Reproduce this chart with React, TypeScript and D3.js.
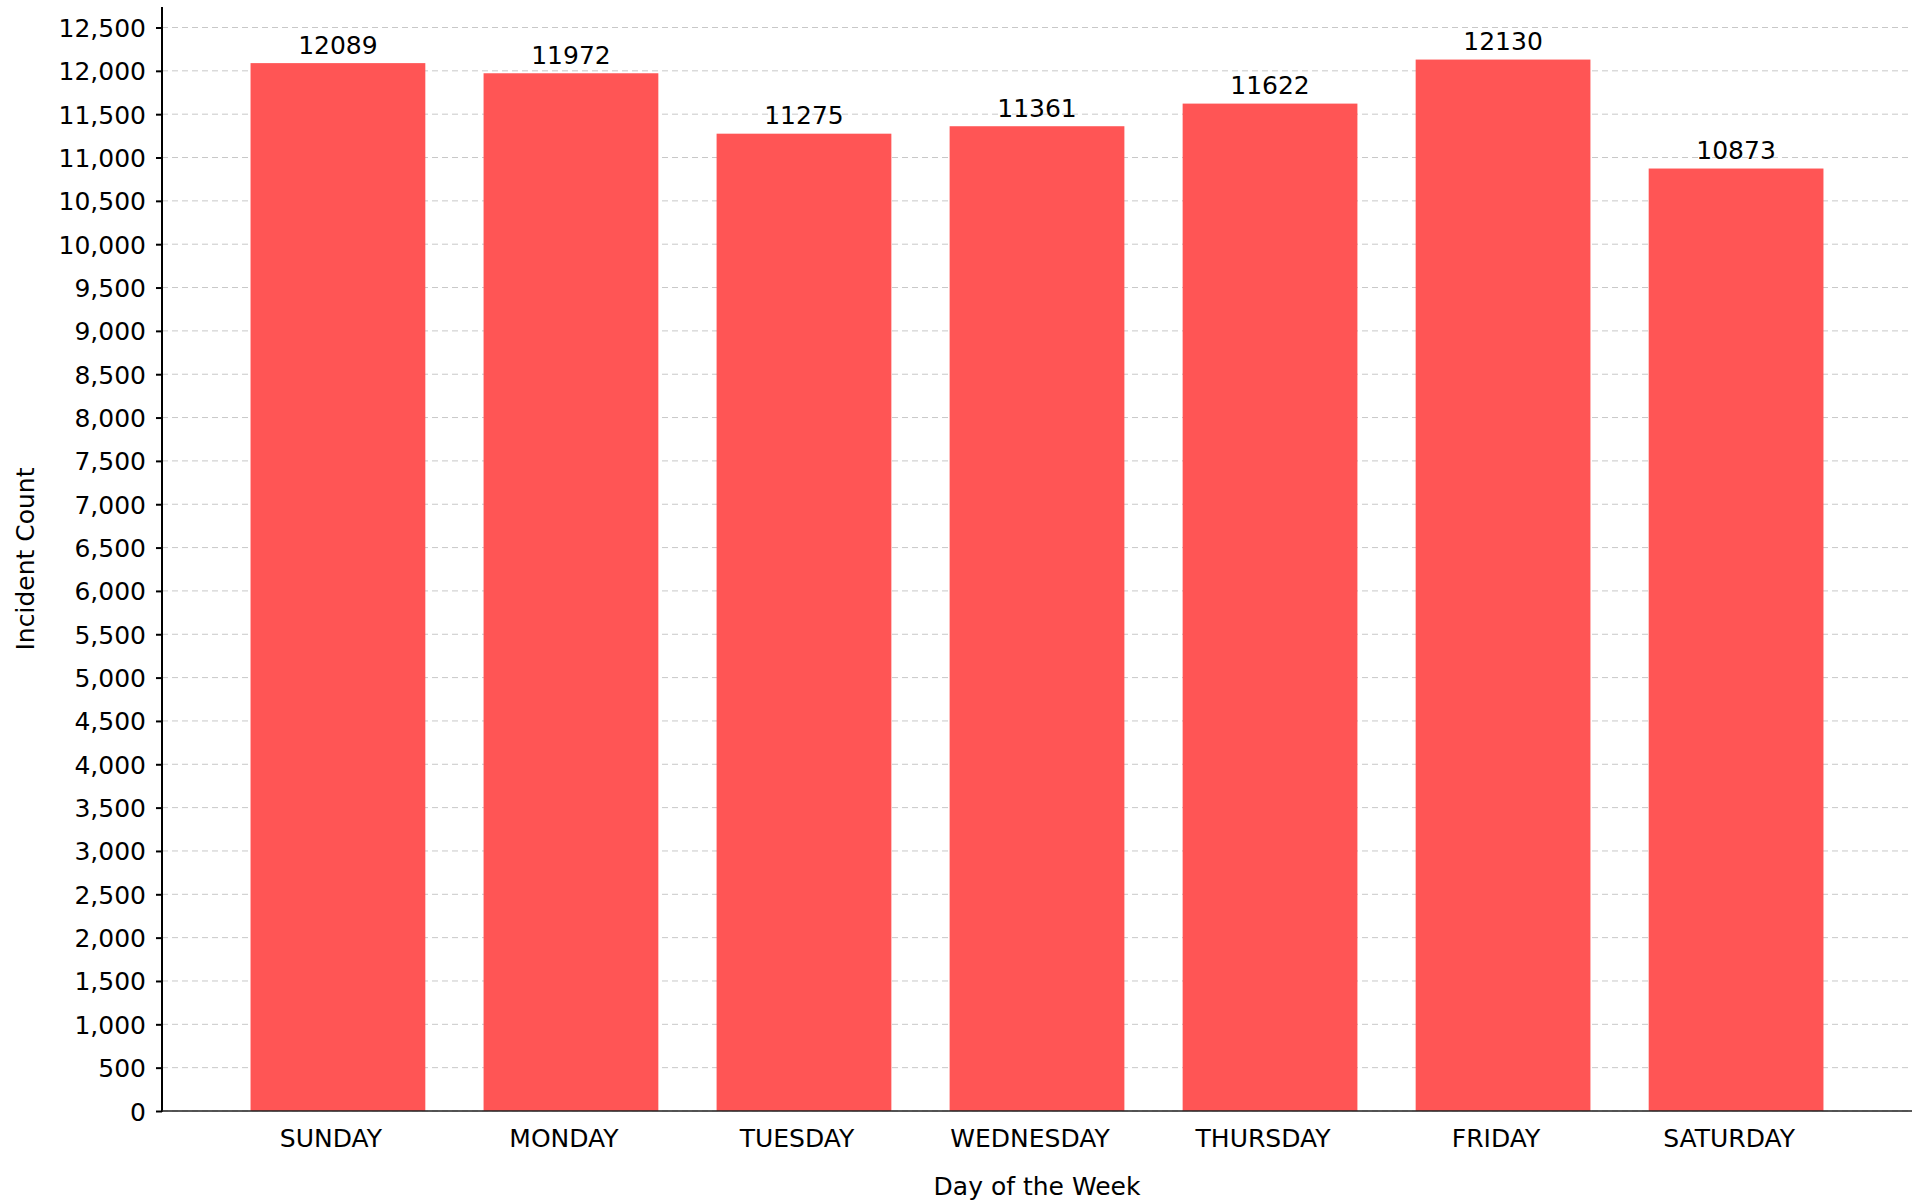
import React, { useEffect, useRef } from 'react';
import * as d3 from 'd3';

const days = ['SUNDAY', 'MONDAY', 'TUESDAY', 'WEDNESDAY', 'THURSDAY', 'FRIDAY', 'SATURDAY'];
const counts = [12089, 11972, 11275, 11361, 11622, 12130, 10873];
const yTicks = d3.range(0, 12501, 500);

const App = () => {
  const svgRef = useRef<SVGSVGElement>(null);

  useEffect(() => {
    const w = 1921;
    const h = 1202;
    const left = 162;
    const right = 1912;
    const top = 7;
    const bottom = 1111;
    const font = '"DejaVu Sans", sans-serif';

    const svg = d3.select(svgRef.current).attr('width', w).attr('height', h);
    svg.selectAll('*').remove();

    const x = d3.scaleBand<string>()
      .domain(days)
      .range([left, right])
      .paddingInner(0.25)
      .paddingOuter(0.38);

    const y = d3.scaleLinear()
      .domain([0, d3.max(counts)! * 1.05])
      .range([bottom, top]);

    // grid
    svg.append('g')
      .selectAll('line')
      .data(yTicks)
      .join('line')
      .attr('x1', left)
      .attr('x2', right)
      .attr('y1', d => y(d))
      .attr('y2', d => y(d))
      .attr('stroke', '#c8c8c8')
      .attr('stroke-width', 1)
      .attr('stroke-dasharray', '6,4');

    // bars
    svg.append('g')
      .selectAll('rect')
      .data(counts)
      .join('rect')
      .attr('x', (d, i) => x(days[i])!)
      .attr('width', x.bandwidth())
      .attr('y', d => y(d))
      .attr('height', d => bottom - y(d))
      .attr('fill', '#ff5555');

    // value labels
    svg.append('g')
      .selectAll('text')
      .data(counts)
      .join('text')
      .attr('x', (d, i) => x(days[i])! + x.bandwidth() / 2)
      .attr('y', d => y(d) - 9.5)
      .attr('text-anchor', 'middle')
      .style('font-family', font)
      .style('font-size', '25px')
      .attr('fill', '#000')
      .text(d => String(d));

    // y axis
    const yAxis = d3.axisLeft(y)
      .tickValues(yTicks)
      .tickSize(6)
      .tickPadding(10)
      .tickFormat(d3.format(','));
    const gy = svg.append('g')
      .attr('transform', `translate(${left},0)`)
      .call(yAxis);
    gy.select('.domain').remove();
    gy.selectAll('.tick line').attr('stroke', '#000').attr('stroke-width', 2);
    gy.selectAll('.tick text')
      .attr('dy', '0.36em')
      .style('font-family', font)
      .style('font-size', '25px')
      .attr('fill', '#000');

    svg.append('line')
      .attr('x1', left).attr('x2', left)
      .attr('y1', top).attr('y2', bottom + 1)
      .attr('stroke', '#000').attr('stroke-width', 2);

    // baseline
    svg.append('line')
      .attr('x1', left).attr('x2', right)
      .attr('y1', bottom).attr('y2', bottom)
      .attr('stroke', '#222').attr('stroke-width', 1.5);

    // x labels (sit a little left of the bar centres, as in the original)
    svg.append('g')
      .selectAll('text')
      .data(days)
      .join('text')
      .attr('x', d => x(d)! + x.bandwidth() / 2 - 7)
      .attr('y', 1147)
      .attr('text-anchor', 'middle')
      .style('font-family', font)
      .style('font-size', '25px')
      .attr('fill', '#000')
      .text(d => d);

    // axis titles
    svg.append('text')
      .attr('x', (left + right) / 2)
      .attr('y', 1195)
      .attr('text-anchor', 'middle')
      .style('font-family', font)
      .style('font-size', '25px')
      .text('Day of the Week');

    svg.append('text')
      .attr('transform', `translate(34,${(top + bottom) / 2}) rotate(-90)`)
      .attr('text-anchor', 'middle')
      .style('font-family', font)
      .style('font-size', '25px')
      .text('Incident Count');
  }, []);

  return (
    <>
      <style>{`body { margin: 0; background: #fff; }`}</style>
      <svg ref={svgRef} style={{ display: 'block' }}></svg>
    </>
  );
};

export default App;
